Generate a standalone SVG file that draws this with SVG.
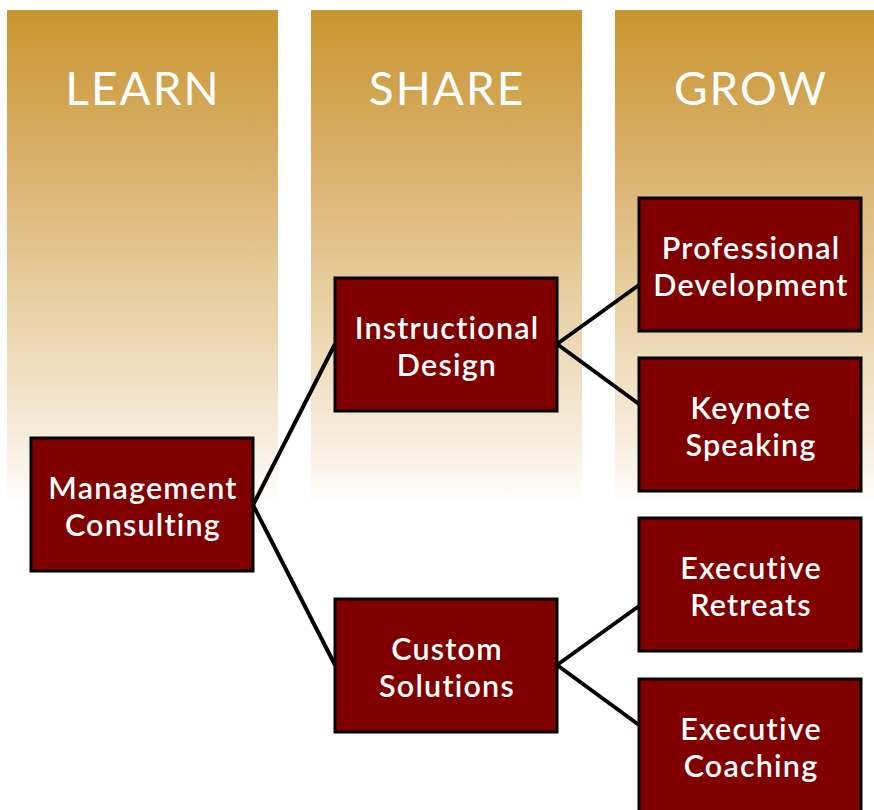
<svg xmlns="http://www.w3.org/2000/svg" width="874" height="810" viewBox="0 0 874 810">
<defs>
<linearGradient id="col" x1="0" y1="0" x2="0" y2="1">
<stop offset="0" stop-color="#C8952F"/>
<stop offset="0.3" stop-color="#D9B06A"/>
<stop offset="0.6" stop-color="#E9D1A6"/>
<stop offset="0.85" stop-color="#F6EBDA"/>
<stop offset="1" stop-color="#FFFFFF"/>
</linearGradient>
<style>
.col{fill:url(#col)}
.head{font-family:Lato,"Open Sans",sans-serif;font-size:46px;fill:#fff;text-anchor:middle;letter-spacing:2px}
.box{fill:#800000;stroke:#000;stroke-width:3}
.lbl{font-family:Lato,"Open Sans",sans-serif;font-size:30.5px;font-weight:600;fill:#fff;text-anchor:middle;letter-spacing:1.2px}
.edge{stroke:#000;stroke-width:4;fill:none}
</style>
</defs>
<rect width="874" height="810" fill="#fff"/>
<g id="columns">
<rect class="col" x="7" y="10" width="271" height="495"/>
<rect class="col" x="311" y="10" width="271" height="495"/>
<rect class="col" x="615" y="10" width="259" height="495"/>
<text class="head" x="143" y="105">LEARN</text>
<text class="head" x="447" y="105">SHARE</text>
<text class="head" x="751" y="105">GROW</text>
</g>
<g id="connectors">
<line class="edge" x1="253" y1="505" x2="335" y2="344"/>
<line class="edge" x1="253" y1="505" x2="335" y2="665"/>
<line class="edge" x1="557" y1="344" x2="639" y2="285"/>
<line class="edge" x1="557" y1="344" x2="639" y2="404"/>
<line class="edge" x1="557" y1="665" x2="639" y2="606"/>
<line class="edge" x1="557" y1="665" x2="639" y2="725"/>
</g>
<g id="management-consulting">
<rect class="box" x="31" y="438" width="222" height="133"/>
<text class="lbl" x="143" y="499">Management</text>
<text class="lbl" x="143" y="536">Consulting</text>
</g>
<g id="instructional-design">
<rect class="box" x="335" y="278" width="222" height="133"/>
<text class="lbl" x="447" y="339">Instructional</text>
<text class="lbl" x="447" y="376">Design</text>
</g>
<g id="custom-solutions">
<rect class="box" x="335" y="599" width="222" height="133"/>
<text class="lbl" x="447" y="660">Custom</text>
<text class="lbl" x="447" y="697">Solutions</text>
</g>
<g id="professional-development">
<rect class="box" x="639" y="198" width="222" height="133"/>
<text class="lbl" x="751" y="259">Professional</text>
<text class="lbl" x="751" y="296">Development</text>
</g>
<g id="keynote-speaking">
<rect class="box" x="639" y="358" width="222" height="133"/>
<text class="lbl" x="751" y="419">Keynote</text>
<text class="lbl" x="751" y="456">Speaking</text>
</g>
<g id="executive-retreats">
<rect class="box" x="639" y="518" width="222" height="133"/>
<text class="lbl" x="751" y="579">Executive</text>
<text class="lbl" x="751" y="616">Retreats</text>
</g>
<g id="executive-coaching">
<rect class="box" x="639" y="679" width="222" height="133"/>
<text class="lbl" x="751" y="740">Executive</text>
<text class="lbl" x="751" y="777">Coaching</text>
</g>
</svg>
